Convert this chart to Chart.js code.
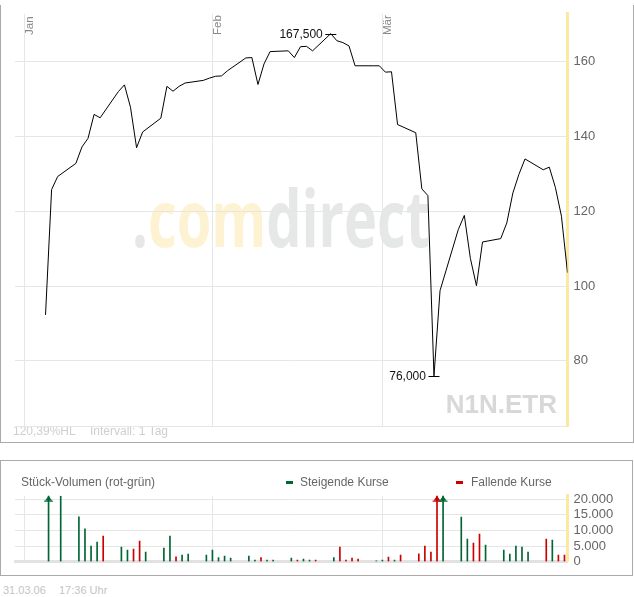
<!DOCTYPE html>
<html>
<head>
<meta charset="utf-8">
<script src="https://cdn.jsdelivr.net/npm/chart.js@4.4.1/dist/chart.umd.min.js"></script>
<style>
  body { margin: 0; width: 634px; height: 597px; background: #fff; position: relative; overflow: hidden;
         font-family: Arial, "Liberation Sans", sans-serif; }
  .panel { position: absolute; border: 1px solid #aaa; }
  #pricePanel { left: 0; top: 5px; width: 632px; height: 437px; border-top: none; }
  #volPanel { left: 0; top: 460px; width: 631px; height: 114px; }
  canvas { position: absolute; left: 0; }
  #price { top: 0; }
  #volume { top: 460px; }
  .txt { position: absolute; font-size: 12px; line-height: 14px; color: #666; white-space: nowrap; }
  .dash { position: absolute; width: 7px; height: 3px; }
  .foot { position: absolute; font-size: 11px; line-height: 14px; color: #c4c4c4; white-space: nowrap; }
</style>
</head>
<body>
<div class="panel" id="pricePanel"></div>
<div class="panel" id="volPanel"></div>
<canvas id="price" width="634" height="443"></canvas>
<canvas id="volume" width="634" height="116"></canvas>

<div class="txt" style="left:21px; top:475px;">Stück-Volumen (rot-grün)</div>
<div class="dash" style="left:286px; top:481px; background:#006633;"></div>
<div class="txt" style="left:300px; top:475px;">Steigende Kurse</div>
<div class="dash" style="left:456px; top:481px; background:#cc0000;"></div>
<div class="txt" style="left:471px; top:475px;">Fallende Kurse</div>

<div class="foot" style="left:3px; top:583px;">31.03.06</div>
<div class="foot" style="left:59px; top:583px;">17:36 Uhr</div>

<script>
// days are counted from 31 Dec 2005 (1 = 1 Jan 2006)
const monthNames = ['Jan', 'Feb', 'Mär'];
const monthStarts = [0, 31, 59];

const tradingDays = [4, 5, 6,
  9, 10, 11, 12, 13, 16, 17, 18, 19, 20, 23, 24, 25, 26, 27,
  30, 31, 32, 33, 34, 37, 38, 39, 40, 41, 44, 45, 46, 47, 48,
  51, 52, 53, 54, 55, 58, 59, 60, 61, 62, 65, 66, 67, 68, 69,
  72, 73, 74, 75, 76, 79, 80, 81, 82, 83, 86, 87, 88, 89, 90];

const closes = [92.3, 125.8, 129.3,
  132.8, 137.2, 139.5, 145.9, 145.0, 152.0, 153.8, 147.8, 137.0, 141.2,
  144.9, 153.4, 152.1, 153.4, 154.3, 155.0, 155.6, 156.1, 156.2, 157.6,
  161.0, 161.1, 153.9, 159.4, 162.7, 162.9, 161.1, 164.0, 164.1, 162.9,
  167.5, 165.6, 165.1, 164.2, 158.9, 158.9, 158.9, 157.2, 157.3, 143.2,
  141.0, 126.0, 124.2, 76.0, 98.8, 115.1, 118.9, 107.4, 100.1, 111.8,
  112.7, 116.9, 124.9, 129.9, 134.0, 131.1, 131.8, 126.4, 118.7, 103.6];

const volumes = [30000, null, 21000,
  14400, 10500, 5000, 6300, 8200, 4700, 3750, 4050, 6600, 3100,
  4400, 8200, 1600, 2150, 2450, 2150, 3750, 1300, 1800, 1200,
  1800, 550, 1300, 550, 550, 1200, 550, 850, 550, 550,
  1300, 4700, 550, 1200, 850, 250, 550, 1500, 550, 2150,
  2550, 5000, 3100, 28000, 26000, 14300, 7250, 6000, 8850, 5350,
  3750, 2450, 5000, 4700, 3100, 7250, 6950, 2150, 2150, null];

const priceTicks = [80, 100, 120, 140, 160];
const volumeTicks = [0, 5000, 10000, 15000, 20000];

const GREEN = '#006633';
const RED = '#cc0000';
const GRID = '#e6e6e6';
const YELLOW = '#fde8a3';

Chart.defaults.font.family = 'Arial, "Liberation Sans", sans-serif';
Chart.defaults.color = '#666';

const barColors = closes.map((c, i) => (i > 0 && c < closes[i - 1]) ? RED : GREEN);

function fmtThousands(v) {
  return String(v).replace(/\B(?=(\d{3})+(?!\d))/g, '.');
}

function monthAxis(scale) {
  scale.ticks = monthStarts.map(v => ({ value: v }));
}

const priceDecor = {
  id: 'priceDecor',
  beforeDraw(chart) {
    const ctx = chart.ctx;
    ctx.save();
    // watermark
    ctx.font = 'bold 78px "Open Sans", sans-serif';
    const full = ctx.measureText('.comdirect').width;
    const sx = 298 / full;
    ctx.translate(132, 247);
    ctx.scale(sx, 1);
    ctx.textBaseline = 'alphabetic';
    ctx.fillStyle = '#e6e7e7';
    ctx.fillText('.', 0, 0);
    const wDot = ctx.measureText('.').width;
    ctx.fillStyle = '#fdf3d3';
    ctx.fillText('com', wDot, 0);
    const wCom = ctx.measureText('.com').width;
    ctx.fillStyle = '#e6e7e7';
    ctx.fillText('direct', wCom, 0);
    ctx.restore();

    ctx.save();
    ctx.font = 'bold 26px Arial, "Liberation Sans", sans-serif';
    ctx.fillStyle = '#d8d8d8';
    ctx.textAlign = 'right';
    ctx.fillText('N1N.ETR', 557, 413);
    ctx.font = '12px Arial, "Liberation Sans", sans-serif';
    ctx.fillStyle = '#cfcfcf';
    ctx.textAlign = 'left';
    ctx.fillText('120,39%HL', 13, 435);
    ctx.fillText('Intervall: 1 Tag', 90, 435);
    ctx.restore();
  },
  afterDatasetsDraw(chart) {
    const { ctx, scales: { x, y } } = chart;
    ctx.save();
    // month labels
    ctx.font = '11.5px Arial, "Liberation Sans", sans-serif';
    ctx.fillStyle = '#888';
    monthStarts.forEach((m, i) => {
      ctx.save();
      ctx.translate(x.getPixelForValue(m) + 9, 35);
      ctx.rotate(-Math.PI / 2);
      ctx.textAlign = 'left';
      ctx.fillText(monthNames[i], 0, 0);
      ctx.restore();
    });
    // high / low markers
    const hi = closes.indexOf(Math.max(...closes));
    const lo = closes.indexOf(Math.min(...closes));
    ctx.font = '12px Arial, "Liberation Sans", sans-serif';
    ctx.fillStyle = '#111';
    ctx.strokeStyle = '#000';
    ctx.lineWidth = 1;
    ctx.textAlign = 'right';
    ctx.textBaseline = 'middle';
    [hi, lo].forEach(i => {
      const px = x.getPixelForValue(tradingDays[i] - 0.5);
      const py = Math.round(y.getPixelForValue(closes[i])) + 0.5;
      ctx.beginPath();
      ctx.moveTo(px - 5.5, py);
      ctx.lineTo(px + 5.5, py);
      ctx.stroke();
      ctx.fillText(closes[i].toFixed(3).replace('.', ','), px - 8, py);
    });
    ctx.restore();
  }
};

const overflowArrows = {
  id: 'overflowArrows',
  afterDatasetsDraw(chart) {
    const { ctx, chartArea, scales: { x, y } } = chart;
    volumes.forEach((v, i) => {
      if (v === null || v <= y.max) return;
      const px = x.getPixelForValue(tradingDays[i]);
      const top = chartArea.top;
      ctx.save();
      ctx.fillStyle = barColors[i];
      ctx.beginPath();
      ctx.moveTo(px, top);
      ctx.lineTo(px - 3.5, top + 5);
      ctx.lineTo(px + 3.5, top + 5);
      ctx.closePath();
      ctx.fill();
      ctx.fillRect(px - 4.5, top + 5, 9, 1);
      ctx.restore();
    });
  }
};

new Chart(document.getElementById('price'), {
  type: 'line',
  data: {
    datasets: [{
      data: tradingDays.map((d, i) => ({ x: d - 0.5, y: closes[i] })),
      borderColor: '#000',
      borderWidth: 1,
      pointRadius: 0,
      tension: 0,
      fill: false
    }]
  },
  options: {
    responsive: false,
    animation: false,
    devicePixelRatio: 1,
    layout: { padding: { left: 15, top: 11, right: 0, bottom: 17 } },
    plugins: { legend: { display: false }, tooltip: { enabled: false } },
    scales: {
      x: {
        type: 'linear', min: -1.53, max: 89.5,
        afterBuildTicks: monthAxis,
        afterFit: s => { s.height = 0; },
        ticks: { display: false },
        grid: { color: GRID, drawTicks: false },
        border: { display: true, color: GRID }
      },
      y: {
        position: 'right', min: 62.6, max: 172.8,
        afterBuildTicks: s => { s.ticks = priceTicks.map(v => ({ value: v })); },
        afterFit: s => { s.width = 66.5; },
        ticks: { padding: 6, font: { size: 13 }, color: '#666', autoSkip: false },
        grid: { color: GRID, drawTicks: false },
        border: { color: YELLOW, width: 3 }
      }
    }
  },
  plugins: [priceDecor]
});

new Chart(document.getElementById('volume'), {
  type: 'bar',
  data: {
    datasets: [{
      data: tradingDays.map((d, i) => ({ x: d, y: volumes[i] })),
      backgroundColor: barColors,
      barThickness: 1
    }]
  },
  options: {
    responsive: false,
    animation: false,
    devicePixelRatio: 1,
    layout: { padding: { left: 15, top: 35.7, right: 0, bottom: 14.3 } },
    plugins: { legend: { display: false }, tooltip: { enabled: false } },
    scales: {
      x: {
        type: 'linear', min: -1.53, max: 89.5, offset: false,
        afterBuildTicks: monthAxis,
        afterFit: s => { s.height = 0; },
        ticks: { display: false },
        grid: { color: GRID, drawTicks: false, offset: false },
        border: { display: true, color: '#e2e2e2', width: 3 }
      },
      y: {
        position: 'right', min: 0, max: 21150,
        afterBuildTicks: s => { s.ticks = volumeTicks.map(v => ({ value: v })); },
        afterFit: s => { s.width = 66.5; },
        ticks: { padding: 6, font: { size: 13 }, color: '#666', autoSkip: false,
                 callback: v => fmtThousands(v) },
        grid: { color: GRID, drawTicks: false },
        border: { color: YELLOW, width: 3 }
      }
    }
  },
  plugins: [overflowArrows]
});
</script>
</body>
</html>
